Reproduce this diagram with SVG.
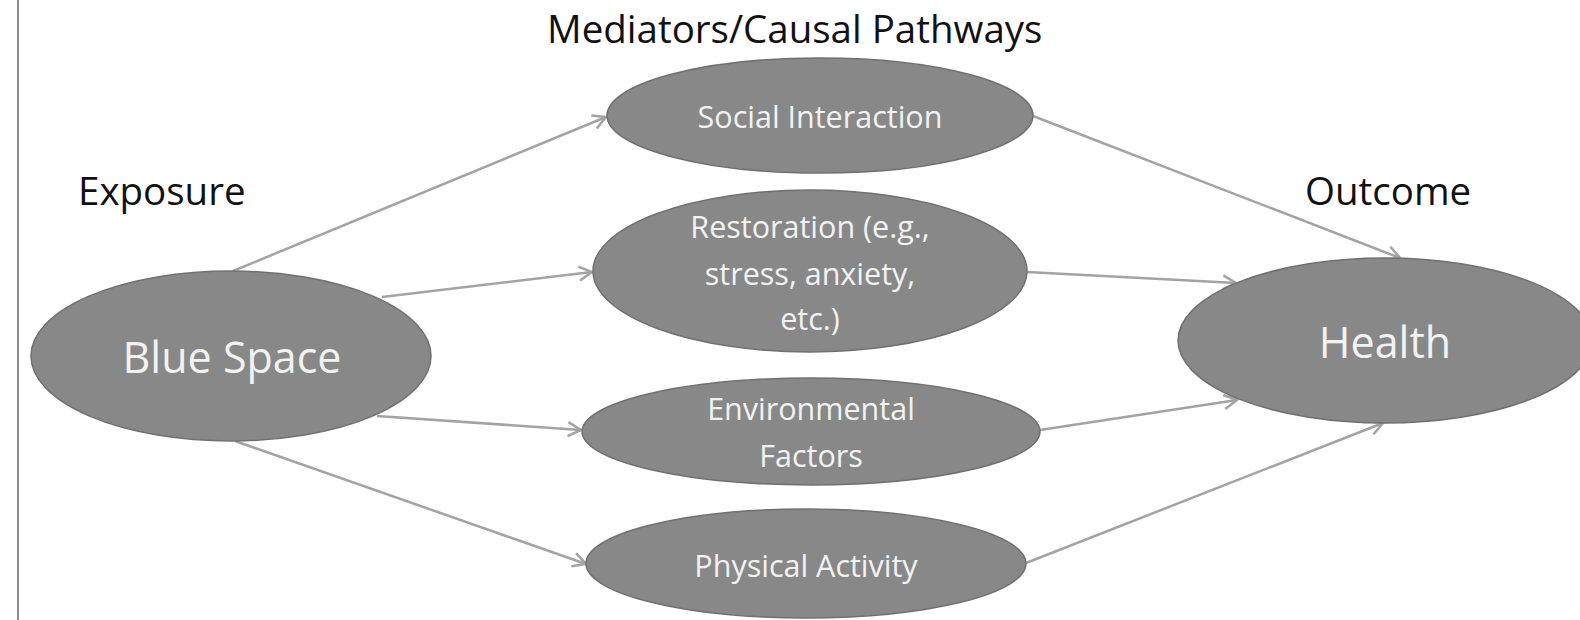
<svg xmlns="http://www.w3.org/2000/svg" width="1580" height="620" viewBox="0 0 1580 620">
  <style>
    .node { fill: #888888; stroke: #707070; stroke-width: 1.5; }
    .lbl { font-family: "Open Sans", "Noto Sans", sans-serif; fill: #f2f2f2; text-anchor: middle; }
    .big { font-size: 43px; }
    .med { font-size: 30.5px; }
    .hdr { font-family: "Open Sans", "Noto Sans", sans-serif; font-size: 38.5px; fill: #111111; }
    .edge { fill: none; stroke: #a3a3a3; stroke-width: 2.5; }
  </style>
  <defs>
    <marker id="arrow" viewBox="0 0 18 18" refX="16" refY="9" markerWidth="18" markerHeight="18" markerUnits="userSpaceOnUse" orient="auto">
      <path d="M3,2 L16,9 L3,16" fill="none" stroke="#a3a3a3" stroke-width="2.5"/>
    </marker>
  </defs>
  <rect x="0" y="0" width="1580" height="620" fill="#ffffff"/>
  <line x1="18" y1="0" x2="18" y2="620" stroke="#8a8a8a" stroke-width="2"/>

  <g id="headers">
    <text class="hdr" x="547" y="43">Mediators/Causal Pathways</text>
    <text class="hdr" x="78" y="205">Exposure</text>
    <text class="hdr" x="1305" y="205">Outcome</text>
  </g>

  <g id="connectors">
    <line class="edge" x1="233" y1="271" x2="606" y2="117" marker-end="url(#arrow)"/>
    <line class="edge" x1="382" y1="297" x2="592" y2="272" marker-end="url(#arrow)"/>
    <line class="edge" x1="377" y1="416" x2="581" y2="430" marker-end="url(#arrow)"/>
    <line class="edge" x1="235" y1="441" x2="586" y2="564" marker-end="url(#arrow)"/>
    <line class="edge" x1="1033" y1="116" x2="1400" y2="258" marker-end="url(#arrow)"/>
    <line class="edge" x1="1027" y1="272" x2="1236" y2="283" marker-end="url(#arrow)"/>
    <line class="edge" x1="1040" y1="430" x2="1237" y2="400" marker-end="url(#arrow)"/>
    <line class="edge" x1="1026" y1="563" x2="1383" y2="423" marker-end="url(#arrow)"/>
  </g>

  <g id="blue-space">
    <ellipse class="node" cx="231" cy="356" rx="200" ry="85"/>
    <text class="lbl big" x="232" y="373">Blue Space</text>
  </g>
  <g id="social-interaction">
    <ellipse class="node" cx="820" cy="115.5" rx="213" ry="57.5"/>
    <text class="lbl med" x="820" y="128">Social Interaction</text>
  </g>
  <g id="restoration">
    <ellipse class="node" cx="810" cy="271" rx="217" ry="81"/>
    <text class="lbl med" x="810" y="238">Restoration (e.g.,</text>
    <text class="lbl med" x="810" y="285">stress, anxiety,</text>
    <text class="lbl med" x="810" y="330">etc.)</text>
  </g>
  <g id="environmental-factors">
    <ellipse class="node" cx="811" cy="431.5" rx="229" ry="53.5"/>
    <text class="lbl med" x="811" y="420">Environmental</text>
    <text class="lbl med" x="811" y="467">Factors</text>
  </g>
  <g id="physical-activity">
    <ellipse class="node" cx="806" cy="563.5" rx="220" ry="54.5"/>
    <text class="lbl med" x="806" y="577">Physical Activity</text>
  </g>
  <g id="health">
    <ellipse class="node" cx="1385" cy="340.5" rx="207" ry="82.5"/>
    <text class="lbl big" x="1385" y="358">Health</text>
  </g>
</svg>
